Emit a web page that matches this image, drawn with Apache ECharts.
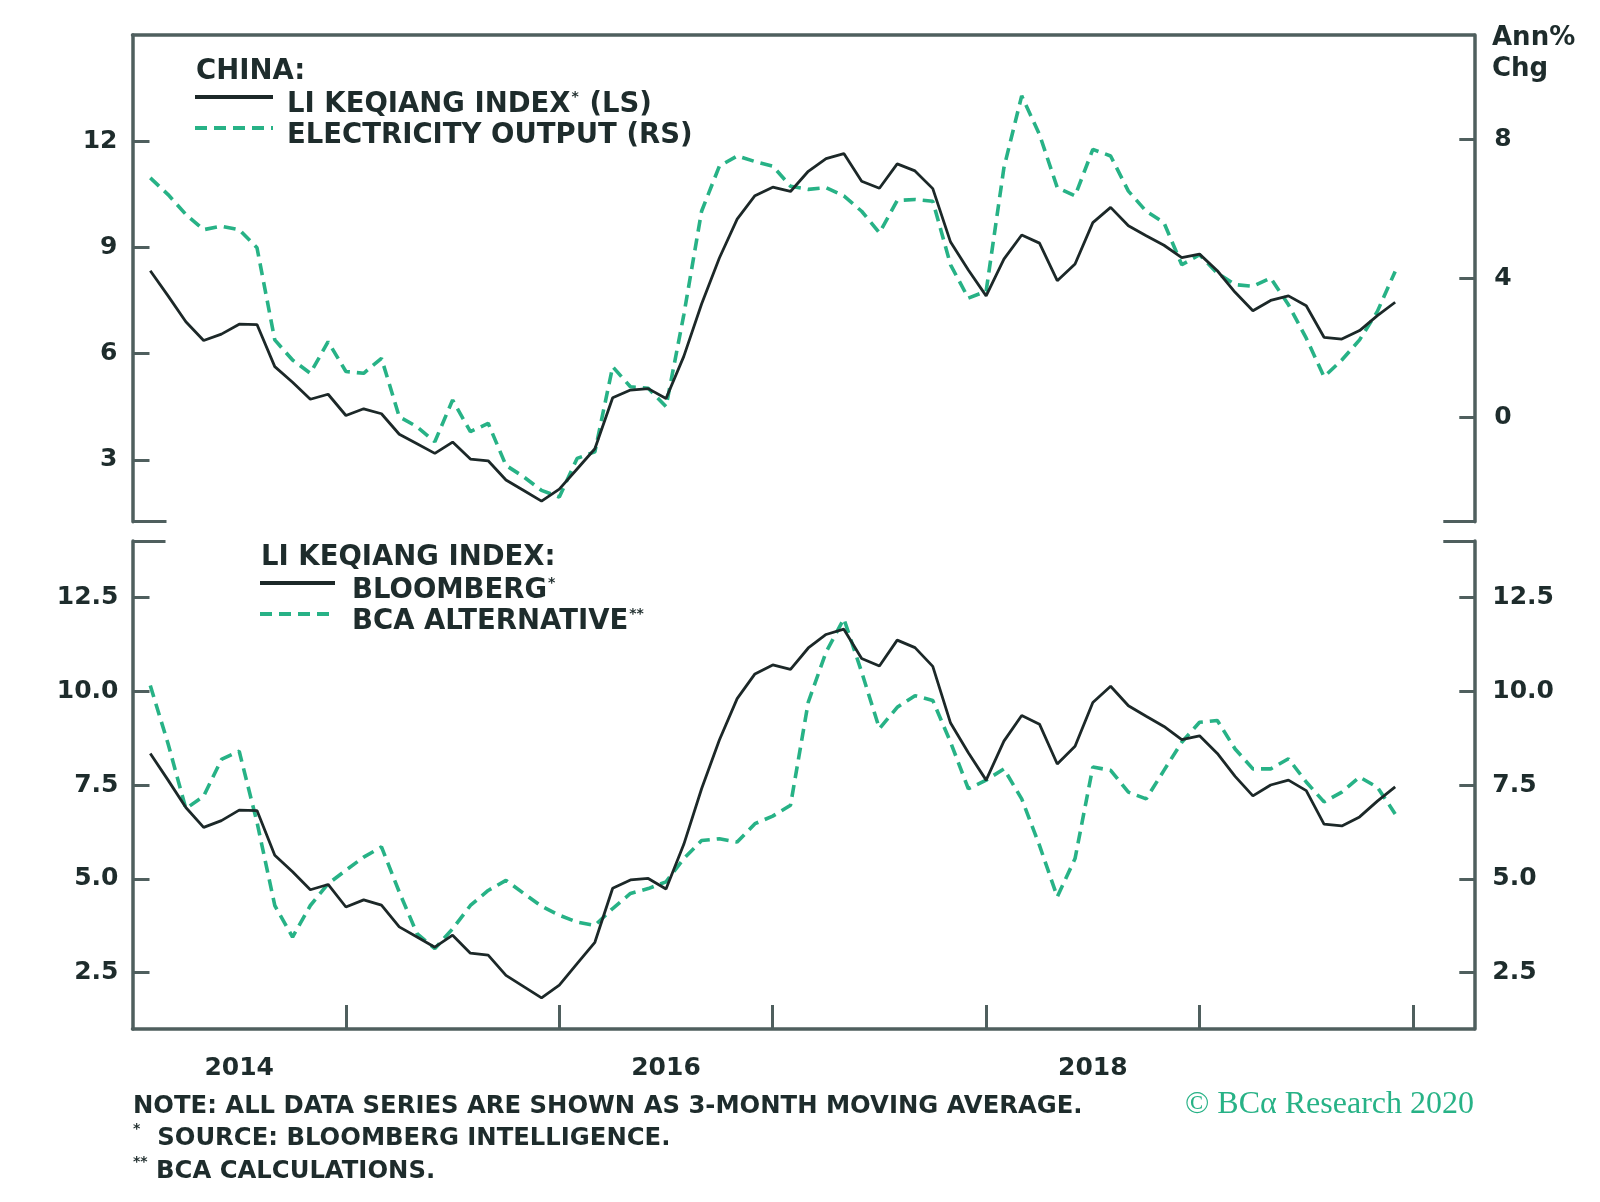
<!DOCTYPE html>
<html>
<head>
<meta charset="utf-8">
<script src="https://cdn.jsdelivr.net/npm/echarts@6/dist/echarts.min.js"></script>
<style>html,body{margin:0;padding:0;background:#fff}#c{width:1600px;height:1202px}</style>
</head>
<body>
<div id="c"></div>
<script>
// ---- data (monthly, 3-month moving average) ----
const startMonth = '2014-02';
const lki = [8.34,7.63,6.90,6.37,6.55,6.83,6.82,5.63,5.19,4.71,4.85,4.25,4.44,4.30,3.72,3.45,3.18,3.50,3.02,2.97,2.43,2.13,1.83,
  2.17,2.74,3.31,4.75,4.97,5.01,4.73,5.92,7.40,8.70,9.80,10.46,10.70,10.58,11.15,11.51,11.65,10.87,10.67,11.36,11.16,10.66,9.15,8.36,7.63,
  8.67,9.35,9.12,8.06,8.53,9.70,10.13,9.61,9.33,9.06,8.71,8.81,8.34,7.73,7.21,7.50,7.63,7.35,6.46,6.41,6.65,7.07,7.45];
const elec = [6.89,6.41,5.84,5.40,5.50,5.40,4.88,2.23,1.65,1.27,2.18,1.32,1.27,1.70,0.02,-0.27,-0.70,0.50,-0.41,-0.17,-1.38,-1.71,-2.10,
  -2.29,-1.18,-0.99,1.46,0.88,0.84,0.31,2.95,5.93,7.23,7.52,7.36,7.23,6.65,6.56,6.61,6.37,5.93,5.31,6.24,6.27,6.22,4.39,3.43,3.63,
  7.18,9.25,8.14,6.61,6.37,7.71,7.52,6.51,5.93,5.60,4.39,4.68,4.15,3.82,3.77,4.01,3.24,2.28,1.17,1.65,2.23,3.05,4.20];
const bca = [10.15,8.60,6.87,7.20,8.18,8.40,6.51,4.29,3.45,4.29,4.87,5.23,5.58,5.85,4.65,3.54,3.14,3.67,4.29,4.69,4.96,4.61,4.27,
  4.03,3.85,3.76,4.21,4.61,4.74,4.92,5.54,6.02,6.07,5.98,6.47,6.67,6.96,9.71,11.04,11.93,10.51,9.00,9.57,9.88,9.75,8.64,7.40,7.63,
  7.93,7.13,5.89,4.52,5.54,7.98,7.89,7.31,7.13,7.89,8.64,9.17,9.22,8.46,7.93,7.93,8.20,7.58,7.05,7.31,7.71,7.44,6.73];

// ---- tick labels ----
const leftTopTicks = [3, 6, 9, 12];
const rightTopTicks = [0, 4, 8];
const bottomTicks = [2.5, 5.0, 7.5, 10.0, 12.5];
const yearTicks = ['2015', '2016', '2017', '2018', '2019', '2020'];
const yearLabels = ['2014', '2016', '2018'];

// ---- helpers ----
const BASE_YEAR = 2014;
function monthIndex(ym) { const p = ym.split('-').map(Number); return (p[0] - BASE_YEAR) * 12 + (p[1] - 1); }
const dates = [];
(function () {
  let [y, m] = startMonth.split('-').map(Number);
  for (let i = 0; i < lki.length; i++) {
    dates.push(y + '-' + String(m).padStart(2, '0'));
    m++; if (m > 12) { m = 1; y++; }
  }
})();
const pairs = arr => arr.map((v, i) => [monthIndex(dates[i]), v]);
const yearTickVals = yearTicks.map(y => monthIndex(y + '-01'));
const yearLabelVals = yearLabels.map(y => monthIndex(y + '-07'));

const F = '"DejaVu Sans", "Open Sans", sans-serif';
const FW = 'bold';
const TXT = '#1e2c2c';
const AX = '#4f5f5e';
const GREEN = '#27b286';
const BLACK = '#1c2828';
const XMIN = 0, XMAX = 75.45;
const TOP_L = [1.25, 15], TOP_R = [-3, 11], BOT = [1, 14];

const lbl = (extra) => Object.assign({ fontFamily: F, fontSize: 25, fontWeight: FW, color: TXT }, extra);
const axLine = { show: true, onZero: false, lineStyle: { color: AX, width: 3.5 } };
const tickStyle = { color: AX, width: 3 };

const chart = echarts.init(document.getElementById('c'), null, { renderer: 'canvas' });
const supRich = { s: { fontFamily: F, fontSize: 14, fontWeight: FW, color: TXT, verticalAlign: 'top', lineHeight: 30, padding: [0, 1, 0, 1] } };
const legendFmt = n => n.replace(/(\*+)/, '{s|$1}');
const hiddenSymbol = { color: 'rgba(0,0,0,0)', borderWidth: 0, opacity: 0 };

chart.setOption({
  animation: false,
  backgroundColor: '#ffffff',
  title: [
    { text: 'CHINA:', left: 196, top: 57, padding: 0, textStyle: { fontFamily: F, fontSize: 27.5, fontWeight: FW, color: TXT, lineHeight: 30 } },
    { text: 'LI KEQIANG INDEX:', left: 261, top: 543, padding: 0, textStyle: { fontFamily: F, fontSize: 27.5, fontWeight: FW, color: TXT, lineHeight: 30 } },
    { text: 'Ann%\nChg', left: 1492, top: 23, padding: 0, textStyle: { fontFamily: F, fontSize: 26, fontWeight: FW, color: TXT, lineHeight: 31 } },
    { text: 'NOTE: ALL DATA SERIES ARE SHOWN AS 3-MONTH MOVING AVERAGE.\n{s|*}  SOURCE: BLOOMBERG INTELLIGENCE.\n{s|**} BCA CALCULATIONS.',
      left: 133, top: 1090, padding: 0,
      textStyle: { fontFamily: F, fontSize: 24.3, fontWeight: FW, color: TXT, lineHeight: 32.5,
        rich: { s: { fontFamily: F, fontSize: 14, fontWeight: FW, color: TXT, verticalAlign: 'top', lineHeight: 32.5 } } } },
    { text: '\u00A9 BC\u03B1 Research 2020', right: 126, top: 1089, padding: 0,
      textStyle: { fontFamily: '"Liberation Serif", "DejaVu Serif", serif', fontSize: 32, fontWeight: 'normal', color: GREEN, lineHeight: 32 } }
  ],
  legend: [
    { data: ['LI KEQIANG INDEX* (LS)', 'ELECTRICITY OUTPUT (RS)'], orient: 'vertical', left: 193, top: 74, padding: 0,
      itemWidth: 78, itemHeight: 14, itemGap: -15, selectedMode: false, formatter: legendFmt, itemStyle: hiddenSymbol,
      lineStyle: { width: 4 },
      textStyle: { fontFamily: F, fontSize: 27.5, fontWeight: FW, color: TXT, lineHeight: 30, padding: [16, 0, 0, 9], rich: supRich } },
    { data: ['BLOOMBERG*', 'BCA ALTERNATIVE**'], orient: 'vertical', left: 258, top: 560, padding: 0,
      itemWidth: 75, itemHeight: 14, itemGap: -15, selectedMode: false, formatter: legendFmt, itemStyle: hiddenSymbol,
      lineStyle: { width: 4 },
      textStyle: { fontFamily: F, fontSize: 27.5, fontWeight: FW, color: TXT, lineHeight: 30, padding: [16, 0, 0, 12], rich: supRich } }
  ],
  grid: [
    { left: 132.5, top: 35, width: 1341.8, height: 486.7 },
    { left: 132.5, top: 541, width: 1341.8, height: 488 }
  ],
  xAxis: [
    { type: 'value', gridIndex: 0, position: 'top', min: XMIN, max: XMAX, axisLine: axLine,
      axisTick: { show: false }, axisLabel: { show: false }, splitLine: { show: false } },
    { type: 'value', gridIndex: 1, position: 'bottom', min: XMIN, max: XMAX, axisLine: axLine,
      axisTick: { show: true, inside: true, length: 24, lineStyle: tickStyle, customValues: yearTickVals },
      axisLabel: Object.assign(lbl({ fontSize: 25, margin: 27 }), { customValues: yearLabelVals,
        formatter: v => String(BASE_YEAR + Math.floor(v / 12)) }),
      splitLine: { show: false } }
  ],
  yAxis: [
    // 0: top left
    { type: 'value', gridIndex: 0, position: 'left', min: TOP_L[0], max: TOP_L[1], axisLine: axLine,
      axisTick: { show: true, inside: true, length: 17, lineStyle: tickStyle, customValues: leftTopTicks },
      axisLabel: Object.assign(lbl({ margin: 15 }), { customValues: leftTopTicks }), splitLine: { show: false } },
    // 1: top right
    { type: 'value', gridIndex: 0, position: 'right', min: TOP_R[0], max: TOP_R[1], axisLine: axLine,
      axisTick: { show: true, inside: true, length: 15, lineStyle: tickStyle, customValues: rightTopTicks },
      axisLabel: Object.assign(lbl({ margin: 20 }), { customValues: rightTopTicks }), splitLine: { show: false } },
    // 2,3: top panel bottom break stubs
    { type: 'value', gridIndex: 0, position: 'left', min: TOP_L[0], max: TOP_L[1], axisLine: { show: false },
      axisTick: { show: true, inside: true, length: 34, lineStyle: tickStyle, customValues: [TOP_L[0]] },
      axisLabel: { show: false }, splitLine: { show: false } },
    { type: 'value', gridIndex: 0, position: 'right', min: TOP_R[0], max: TOP_R[1], axisLine: { show: false },
      axisTick: { show: true, inside: true, length: 31, lineStyle: tickStyle, customValues: [TOP_R[0]] },
      axisLabel: { show: false }, splitLine: { show: false } },
    // 4: bottom left
    { type: 'value', gridIndex: 1, position: 'left', min: BOT[0], max: BOT[1], axisLine: axLine,
      axisTick: { show: true, inside: true, length: 17, lineStyle: tickStyle, customValues: bottomTicks },
      axisLabel: Object.assign(lbl({ margin: 14 }), { customValues: bottomTicks, formatter: v => v.toFixed(1) }), splitLine: { show: false } },
    // 5: bottom right
    { type: 'value', gridIndex: 1, position: 'right', min: BOT[0], max: BOT[1], axisLine: axLine,
      axisTick: { show: true, inside: true, length: 15, lineStyle: tickStyle, customValues: bottomTicks },
      axisLabel: Object.assign(lbl({ margin: 18 }), { customValues: bottomTicks, formatter: v => v.toFixed(1) }), splitLine: { show: false } },
    // 6,7: bottom panel top break stubs
    { type: 'value', gridIndex: 1, position: 'left', min: BOT[0], max: BOT[1], axisLine: { show: false },
      axisTick: { show: true, inside: true, length: 33, lineStyle: tickStyle, customValues: [BOT[1]] },
      axisLabel: { show: false }, splitLine: { show: false } },
    { type: 'value', gridIndex: 1, position: 'right', min: BOT[0], max: BOT[1], axisLine: { show: false },
      axisTick: { show: true, inside: true, length: 31, lineStyle: tickStyle, customValues: [BOT[1]] },
      axisLabel: { show: false }, splitLine: { show: false } }
  ],
  series: [
    { name: 'LI KEQIANG INDEX* (LS)', type: 'line', xAxisIndex: 0, yAxisIndex: 0, data: pairs(lki),
      symbol: 'none', showSymbol: false, lineStyle: { color: BLACK, width: 2.8 }, itemStyle: { color: BLACK }, z: 3 },
    { name: 'ELECTRICITY OUTPUT (RS)', type: 'line', xAxisIndex: 0, yAxisIndex: 1, data: pairs(elec),
      symbol: 'none', showSymbol: false, lineStyle: { color: GREEN, width: 3.6, type: [12, 7] }, itemStyle: { color: GREEN }, z: 2 },
    { name: 'BLOOMBERG*', type: 'line', xAxisIndex: 1, yAxisIndex: 4, data: pairs(lki),
      symbol: 'none', showSymbol: false, lineStyle: { color: BLACK, width: 2.8 }, itemStyle: { color: BLACK }, z: 3 },
    { name: 'BCA ALTERNATIVE**', type: 'line', xAxisIndex: 1, yAxisIndex: 4, data: pairs(bca),
      symbol: 'none', showSymbol: false, lineStyle: { color: GREEN, width: 3.6, type: [12, 7] }, itemStyle: { color: GREEN }, z: 2 }
  ]
});
</script>
</body>
</html>
